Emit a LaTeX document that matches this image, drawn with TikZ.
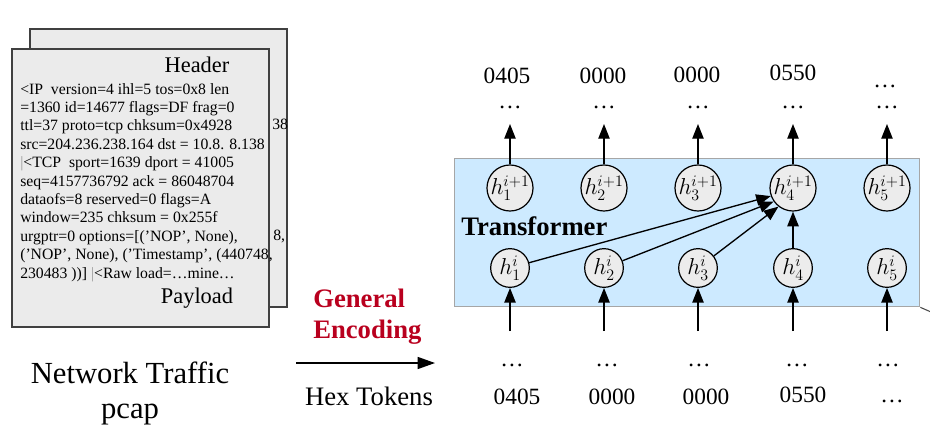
\documentclass[tikz,border=0pt]{standalone}
\usepackage{fontspec}
\setmainfont{Liberation Serif}
\usetikzlibrary{arrows.meta}
\definecolor{pagefill}{RGB}{235,235,235}
\definecolor{pageline}{RGB}{64,64,64}
\definecolor{tfill}{RGB}{205,234,255}
\definecolor{tline}{RGB}{166,166,166}
\definecolor{encred}{RGB}{185,0,30}
\definecolor{cfill}{RGB}{236,236,236}
\newcommand{\pkttext}{%
<IP\ \ version=4 ihl=5 tos=0x8 len\\
=1360 id=14677 flags=DF frag=0\\
ttl=37 proto=tcp chksum=0x4928\\
src=204.236.238.164 dst = 10.8. 8.138\\
\textcolor{black!40}{|}<TCP\ \ sport=1639 dport = 41005\\
seq=4157736792 ack = 86048704\\
dataofs=8 reserved=0 flags=A\\
window=235 chksum = 0x255f\\
urgptr=0 options=[('NOP', None),\\
('NOP', None), ('Timestamp', (440748,\\
230483 ))] \textcolor{black!40}{|}<Raw load=…mine…}
\begin{document}
\begin{tikzpicture}[x=0.75pt,y=-0.75pt,
  pagebox/.style={draw=pageline,fill=pagefill,line width=1.4pt},
  pkt/.style={anchor=base west,inner sep=0pt,align=left,font=\fontsize{11.8pt}{13.8pt}\selectfont},
  pagelabel/.style={anchor=base,inner sep=0pt,font=\fontsize{16.8pt}{18pt}\selectfont},
  hnode/.style={circle,draw=black,fill=cfill,line width=0.9pt,minimum size=29pt,inner sep=0pt,font=\fontsize{17pt}{18pt}\selectfont},
  tok/.style={anchor=base,inner sep=0pt,font=\fontsize{17.5pt}{18pt}\selectfont},
  arr/.style={-{Triangle[width=8.5pt,length=11pt]},line width=1pt},
  big/.style={anchor=base,inner sep=0pt,font=\fontsize{23pt}{26pt}\selectfont},
  enc/.style={anchor=base west,inner sep=0pt,text=encred,font=\fontsize{20pt}{22pt}\selectfont\bfseries}
]
\useasboundingbox (0,0) rectangle (930,435);

% ---- back page (only the fragments that show) ----
\path[pagebox] (30,29) rectangle (287,307);
\node[pkt] (backfrag1) at (272,129) {38};
\node[pkt] (backfrag2) at (273,240) {8,};

% ---- front page ----
\path[pagebox] (12,49) rectangle (269,327);
\node[pagelabel] (header) at (197,72) {Header};
\node[pkt] (fronttext) at (20,278) {\pkttext};
\node[pagelabel] (payload) at (197,303) {Payload};

% ---- network traffic labels ----
\node[big] (nt) at (130,383) {Network Traffic};
\node[big] (pcap) at (130,418) {pcap};

% ---- general encoding ----
\node[enc] (gen) at (313,307) {General};
\node[enc] (encd) at (313,338) {Encoding};
\coordinate (ea) at (296,363);
\coordinate (eb) at (435,363);
\draw[-{Triangle[width=9pt,length=13pt]},line width=1pt] (ea) -- (eb);
\node[anchor=base,inner sep=0pt,font=\fontsize{20pt}{22pt}\selectfont] (hex) at (369,405) {Hex Tokens};

% ---- transformer box ----
\node[draw=tline,fill=tfill,line width=1pt,minimum width=465*0.75pt,minimum height=148*0.75pt,inner sep=0pt,anchor=north west] (tbox) at (454,158) {};
\coordinate (tail) at (931,312);
\draw[line width=0.8pt,black!70] (tbox.south east) -- (tail);
\node[anchor=base west,inner sep=0pt,font=\fontsize{20pt}{22pt}\selectfont\bfseries] (tlab) at (461,235) {Transformer};

% nodes
\foreach \i/\x in {1/510,2/604,3/698,4/793,5/887}{
  \node[hnode] (t\i) at (\x,188) {$h_{\i}^{i+1}$};
  \node[hnode] (b\i) at (\x,268) {$h_{\i}^{i}$};
}

% vertical arrows
\foreach \i/\x in {1/510,2/604,3/698,4/793,5/887}{
  \coordinate (tt\i) at (\x,124);
  \draw[arr] (t\i.north) -- (tt\i);
  \node[tok] (td\i) at (\x,108) {…};
  \coordinate (bs\i) at (\x,331);
  \draw[arr] (bs\i) -- (b\i.south);
}
\node[tok] (tl1) at (507,84) {0405};
\node[tok] (tl2) at (603,84) {0000};
\node[tok] (tl3) at (697,82) {0000};
\node[tok] (tl4) at (793,80) {0550};
\node[tok] (tl5) at (885,87) {…};

% bottom labels
\node[tok] (bd1) at (512,366) {…};
\node[tok] (bd2) at (607,366) {…};
\node[tok] (bd3) at (699,366) {…};
\node[tok] (bd4) at (797,366) {…};
\node[tok] (bd5) at (888,366) {…};
\node[tok] (bl1) at (517,404) {0405};
\node[tok] (bl2) at (612,404) {0000};
\node[tok] (bl3) at (706,404) {0000};
\node[tok] (bl4) at (803,402) {0550};
\node[tok] (bl5) at (892,402) {…};

% attention arrows
\draw[arr] (b1) -- (t4.200);
\draw[arr] (b2) -- (t4.215);
\draw[arr] (b3) -- (t4.232);
\draw[arr] (b4) -- (t4);
\end{tikzpicture}
\end{document}
